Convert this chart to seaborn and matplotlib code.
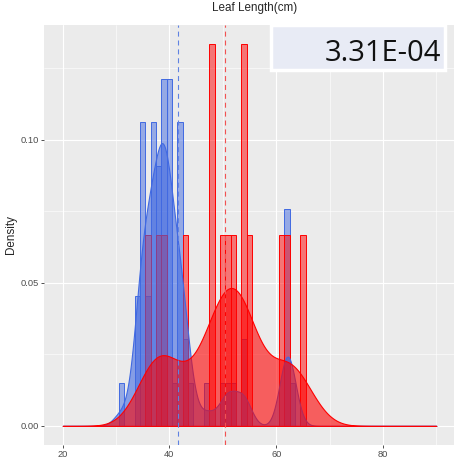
import numpy as np
import matplotlib
matplotlib.use("Agg")
import matplotlib.pyplot as plt
import seaborn as sns
from matplotlib.patches import Rectangle
from matplotlib.ticker import MultipleLocator

# leaf lengths (cm), with how many leaves had each
blue_lengths = [31, 34, 35, 36, 37, 38, 39, 40, 41, 42, 43, 44, 47, 50, 51, 52, 54, 62, 63]
blue_counts = [1, 3, 7, 3, 7, 6, 8, 8, 1, 7, 2, 1, 1, 1, 1, 1, 2, 5, 1]
red_lengths = [36, 38, 39, 43, 48, 50, 51, 52, 54, 55, 61, 62, 65]
red_counts = [1, 1, 1, 1, 2, 1, 1, 1, 2, 1, 1, 1, 1]

x_ticks = [20, 40, 60, 80]
y_ticks = [0.00, 0.05, 0.10]
y_tick_labels = ["0.00", "0.05", "0.10"]
title = "Leaf Length(cm)"
p_value = "3.31E-04"

blue = np.repeat(blue_lengths, blue_counts)
red = np.repeat(red_lengths, red_counts)


def nrd0(x):
    # R's default bandwidth (what geom_density uses)
    q75, q25 = np.percentile(x, [75, 25])
    lo = min(np.std(x, ddof=1), (q75 - q25) / 1.34)
    return 0.9 * lo * len(x) ** -0.2


sns.set_theme(style="darkgrid", rc={
    "axes.facecolor": "#EBEBEB",
    "grid.color": "white",
})
plt.rcParams["font.family"] = ["Liberation Sans", "DejaVu Sans"]

fig = plt.figure(figsize=(4.54, 4.59), dpi=100)
ax = fig.add_axes([44 / 454, 14 / 459, 411 / 454, 420 / 459])

groups = [(blue, "royalblue"), (red, "red")]
mean_colors = ["#5F82E2", "#F25252"]

for data, col in groups:
    sns.histplot(data, stat="density", discrete=True, color=col, alpha=0.5,
                 edgecolor=col, linewidth=0.7, ax=ax)

for data, col in groups:
    sns.kdeplot(data, bw_method=nrd0(data) / np.std(data, ddof=1), fill=True,
                alpha=0.6, color=col, linewidth=0.8, cut=40, clip=(20, 90),
                gridsize=512, ax=ax)

for (data, _), col in zip(groups, mean_colors):
    ax.axvline(data.mean(), color=col, ls=(0, (4.5, 3.5)), lw=0.8)

ax.set_xlim(16.5, 93.5)
ax.set_ylim(-0.00667, 0.14)
ax.set_xticks(x_ticks)
ax.set_xticklabels([str(t) for t in x_ticks])
ax.set_yticks(y_ticks)
ax.set_yticklabels(y_tick_labels)
ax.xaxis.set_minor_locator(MultipleLocator(10))
ax.yaxis.set_minor_locator(MultipleLocator(0.025))
ax.grid(which="major", color="white", lw=0.8)
ax.grid(which="minor", color="white", lw=0.4)
ax.set_axisbelow(True)
ax.tick_params(which="minor", length=0)
ax.tick_params(which="major", length=2.2, width=0.6, color="#333333",
               labelsize=6.7, labelcolor="#4D4D4D", pad=1.4,
               bottom=True, left=True)
for s in ax.spines.values():
    s.set_visible(False)
ax.set_xlabel("")
ax.set_ylabel("")

fig.text(255 / 454, 1 - 8 / 459, title, ha="center", va="center", fontsize=8.4)
fig.text(11 / 454, 1 - 235 / 459, "Density", rotation=90, ha="center",
         va="center", fontsize=8.4)

fig.add_artist(Rectangle((271 / 454, 1 - 70 / 459), 174 / 454, 45 / 459,
                         transform=fig.transFigure, facecolor="#E8EBF5",
                         edgecolor="white", lw=2.5))
fig.text(441 / 454, 1 - 61 / 459, p_value, ha="right", va="baseline",
         fontsize=21, family="Open Sans", color="#111111")

fig.savefig("out.png", dpi=100)
